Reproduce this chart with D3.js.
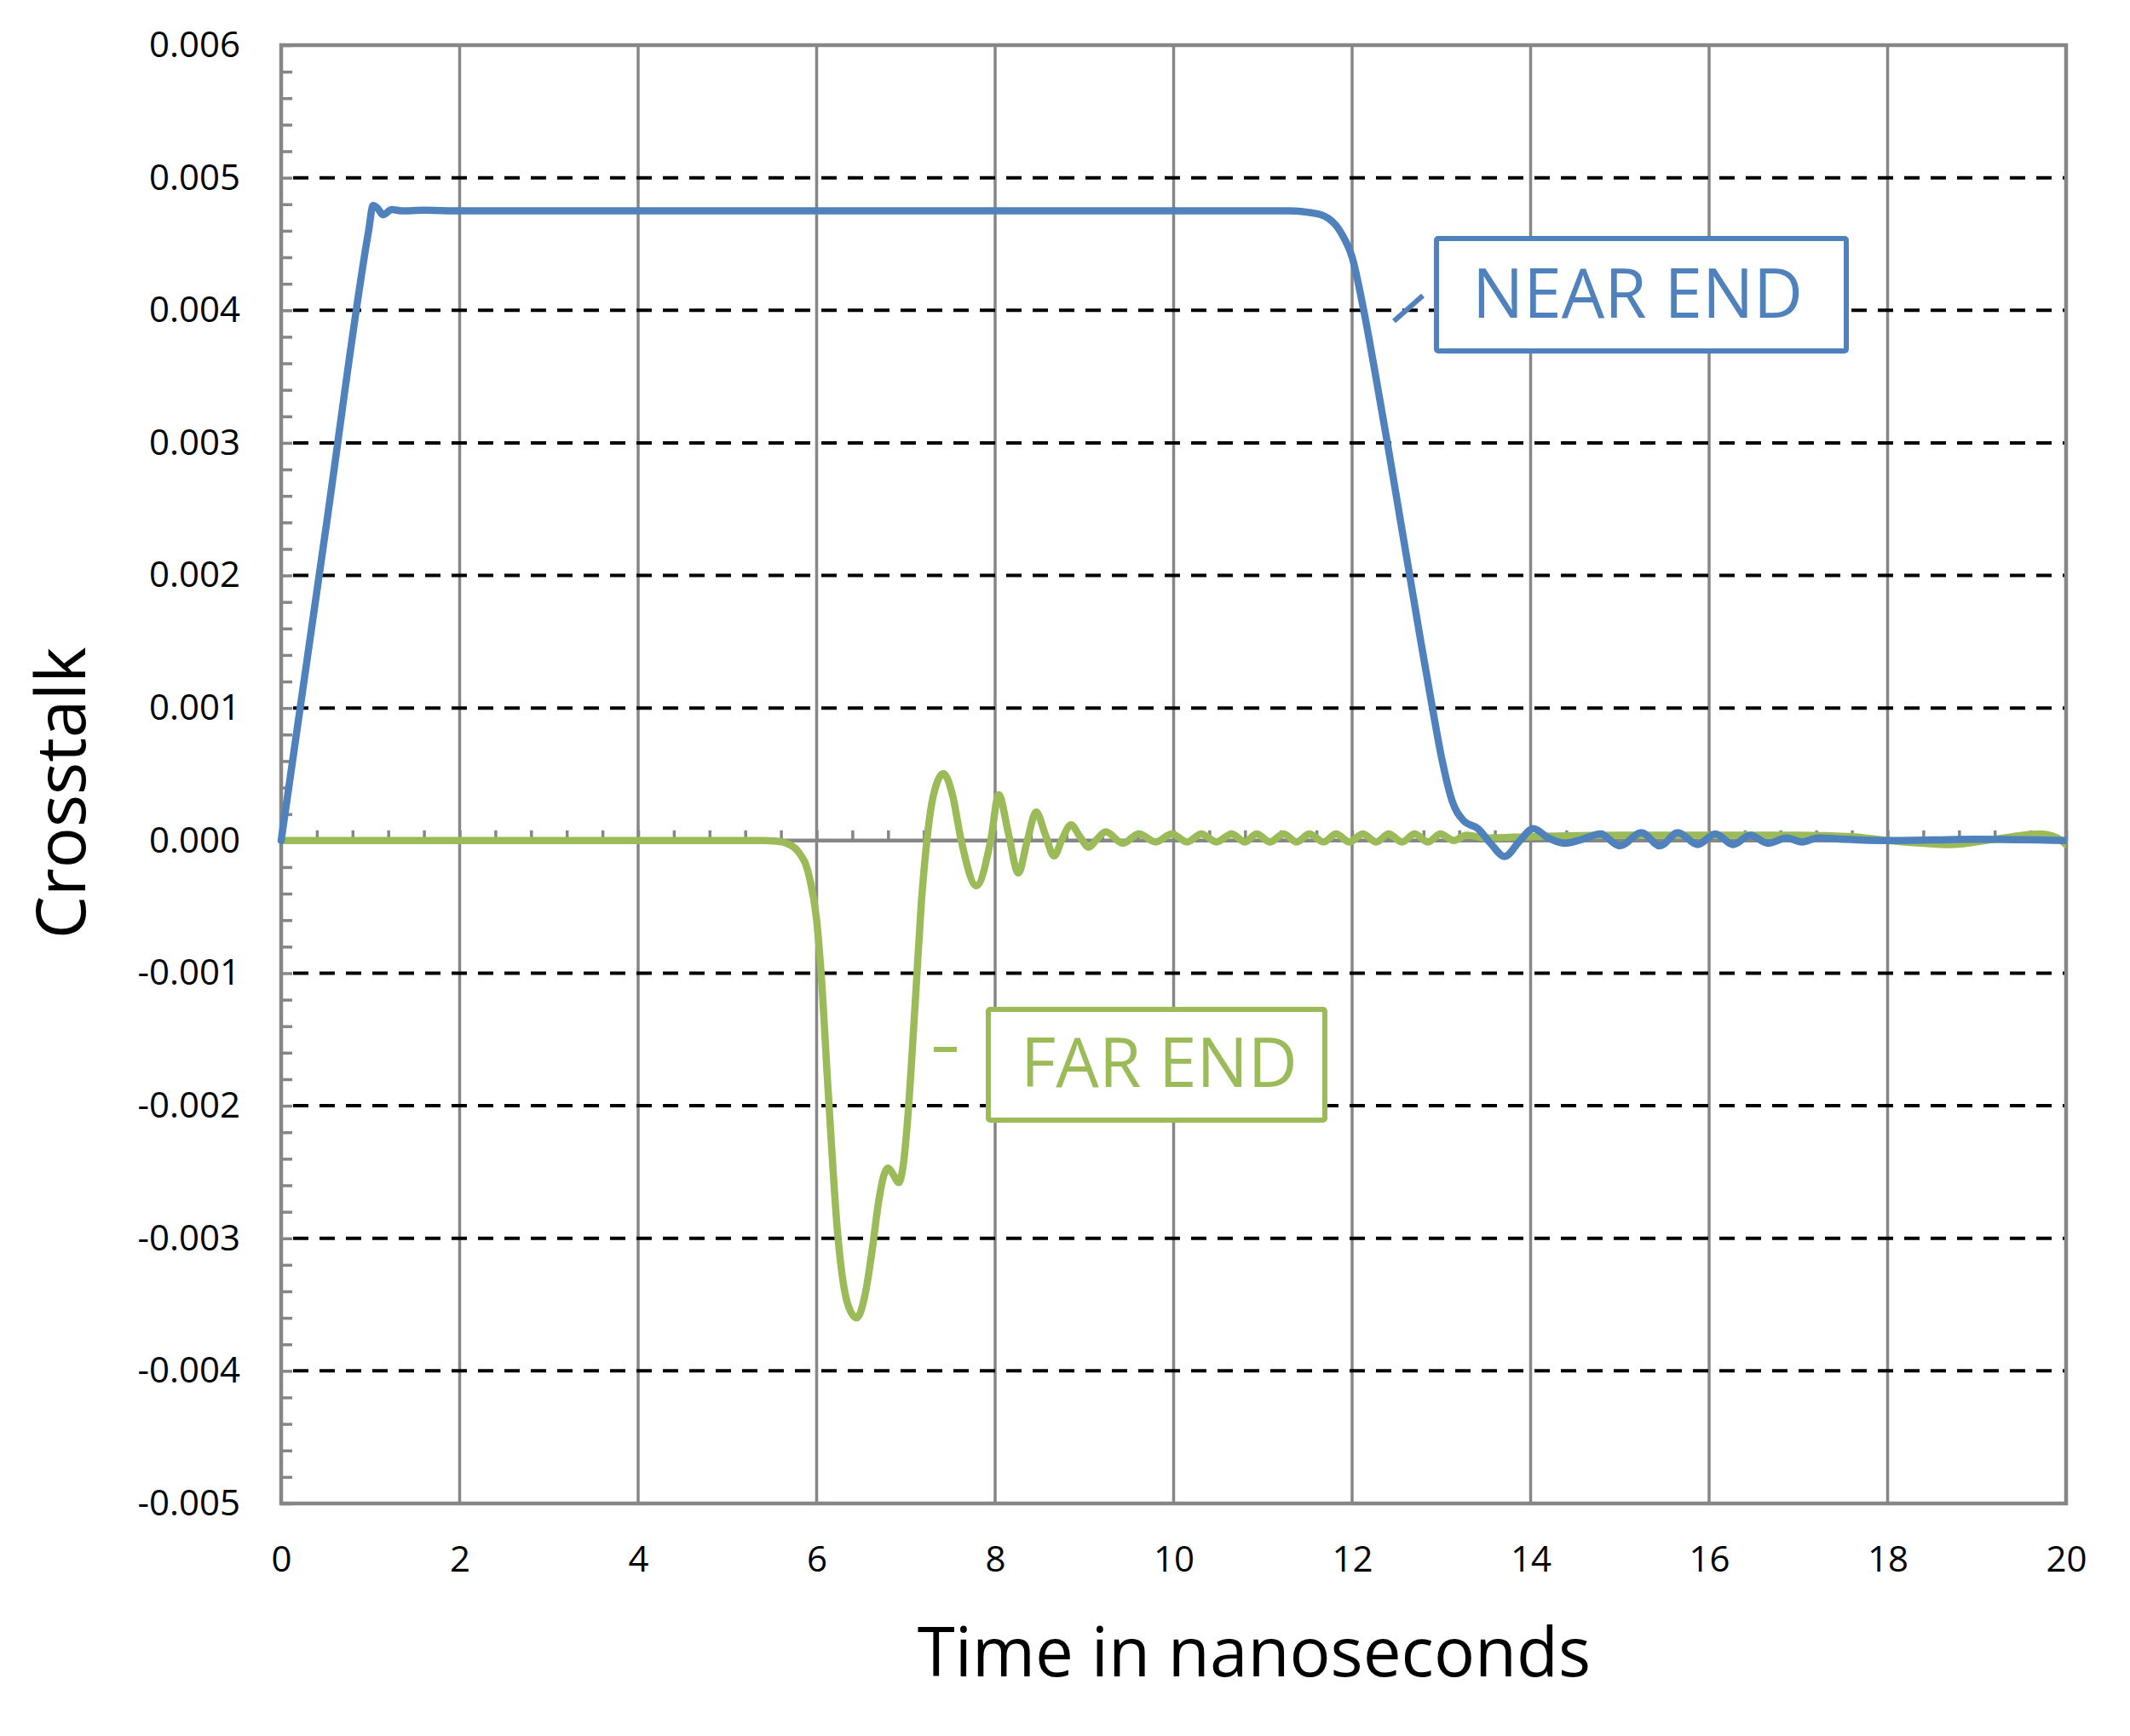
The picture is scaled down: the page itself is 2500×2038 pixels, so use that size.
<!DOCTYPE html>
<html>
<head>
<meta charset="utf-8">
<script src="https://cdn.jsdelivr.net/npm/d3@7"></script>
<style>
body { margin: 0; background: #fff; }
svg { display: block; }
text { font-family: "Open Sans", sans-serif; }
</style>
</head>
<body>
<div class="chartDiv"></div>
<script>
// values (time in ns, crosstalk)
var nearTime = [0, 0.5, 0.98, 1.03, 1.08, 1.14, 1.24, 1.35, 1.6, 2, 4, 6, 8, 10, 11.3, 11.5, 11.69, 11.88, 12.0, 12.13,
    12.26, 12.40, 12.53, 12.65, 12.77, 12.90, 13.01, 13.12, 13.25, 13.41, 13.55, 13.71, 13.88, 14.03, 14.2, 14.38,
    14.58, 14.78, 15.0, 15.24, 15.45, 15.65, 15.87, 16.07, 16.27, 16.46, 16.66, 16.87, 17.04, 17.22, 17.5, 18, 19, 20];
var nearEnd = [0, 0.00235, 0.0046, 0.00479, 0.00477, 0.00472, 0.00476, 0.00475, 0.004755, 0.00475, 0.00475, 0.00475,
    0.00475, 0.00475, 0.00475, 0.00474, 0.00471, 0.00458, 0.0044, 0.004,
    0.00352, 0.00298, 0.00246, 0.00198, 0.0015, 0.001, 0.0006, 0.0003, 0.00015, 0.00009, -0.00002, -0.00012,
    0, 0.00009, 0.00002, -0.00002,
    0.00001, 0.00005, -0.00004, 0.00006, -0.00004, 0.00006, -0.00003, 0.00005, -0.00003, 0.00004, -0.00002, 0.00002,
    -0.00001, 0.00002, 0.00001, 0, 0.00001, 0];

var farTime = [0, 5.4, 5.55, 5.66, 5.79, 5.92, 6.0, 6.05, 6.13, 6.24, 6.35, 6.45, 6.55, 6.62, 6.70, 6.76, 6.80, 6.86,
    6.92, 6.97, 7.02, 7.07, 7.12, 7.17, 7.22, 7.28, 7.34, 7.42, 7.52, 7.62, 7.79, 7.95, 8.04, 8.15, 8.26, 8.36, 8.46, 8.56,
    8.66, 8.75, 8.85, 8.95, 9.05, 9.14, 9.24, 9.43, 9.61, 9.80, 9.98, 10.15, 10.31, 10.48, 10.65, 10.80, 10.93, 11.08,
    11.23, 11.38, 11.52, 11.68, 11.82, 11.97, 12.12, 12.27, 12.41, 12.56, 12.70, 12.85, 12.99, 13.14, 13.28, 13.5,
    14, 15, 16, 17, 17.6, 18.0, 18.4, 18.7, 19.1, 19.4, 19.7, 19.9, 20];
var farEnd = [0, 0, -0.000005, -0.00002, -0.00008, -0.00028, -0.0006, -0.001, -0.0019, -0.003, -0.0035, -0.0036,
    -0.0034, -0.0031, -0.0027, -0.00251, -0.00247, -0.00252,
    -0.00258, -0.00245, -0.0021, -0.0016, -0.00105, -0.0005, -0.0001, 0.00024, 0.00042, 0.000505, 0.00035, 0, -0.00034,
    0, 0.000345, 0.00005, -0.000245, 0, 0.000216, 0.00005,
    -0.000116, 0.00001, 0.00012, 0.00003, -0.00005, 0.00001, 0.000066, -0.00002, 0.00005, -0.00001, 0.00005,
    -0.00001, 0.00005, -0.00001, 0.00005, -0.00001, 0.00005, -0.00001,
    0.00005, -0.00001, 0.00005, -0.00001, 0.00005, -0.00001, 0.00005, -0.00001, 0.00005, -0.00001, 0.00005,
    -0.00001, 0.00005, 0, 0.00004, 0.00002,
    0.00003, 0.00004, 0.00004, 0.00004, 0.00003, 0, -0.00002, -0.00003, 0, 0.00003, 0.00005, 0.00002, -0.00003];

var xTicks = [0, 2, 4, 6, 8, 10, 12, 14, 16, 18, 20];
var yTicks = [-0.005, -0.004, -0.003, -0.002, -0.001, 0, 0.001, 0.002, 0.003, 0.004, 0.005, 0.006];

var labelNames = ['NEAR END', 'FAR END'];

const chartWidth = 2500;
const chartHeight = 2038;
const plotLeft = 330;
const plotRight = 2425;
const plotTop = 53;
const plotBottom = 1765;

const blue = '#4f81bd';
const green = '#9bbb59';
const gray = '#868686';

var svg = d3.select('.chartDiv')
    .append('svg')
    .attr('width', chartWidth)
    .attr('height', chartHeight);

var x = d3.scaleLinear().domain([0, 20]).range([plotLeft, plotRight]);
var y = d3.scaleLinear().domain([-0.005, 0.006]).range([plotBottom, plotTop]);

// vertical grid lines
svg.append('g')
    .selectAll('line')
    .data(xTicks.slice(1, -1))
    .enter()
    .append('line')
    .attr('x1', d => x(d))
    .attr('x2', d => x(d))
    .attr('y1', plotTop)
    .attr('y2', plotBottom)
    .style('stroke', gray)
    .style('stroke-width', 3.5);

// dashed horizontal grid lines
svg.append('g')
    .selectAll('line')
    .data(yTicks.filter(d => d != 0 && d > -0.005 && d < 0.006))
    .enter()
    .append('line')
    .attr('x1', plotLeft + 2)
    .attr('x2', plotRight)
    .attr('y1', d => y(d))
    .attr('y2', d => y(d))
    .style('stroke', '#000')
    .style('stroke-width', 4)
    .style('stroke-dasharray', '18,13')
    .style('stroke-dashoffset', -12);

// plot border
svg.append('rect')
    .attr('x', plotLeft)
    .attr('y', plotTop)
    .attr('width', plotRight - plotLeft)
    .attr('height', plotBottom - plotTop)
    .attr('fill', 'none')
    .style('stroke', gray)
    .style('stroke-width', 4.5);

// minor ticks on the left axis, pointing inwards
const yMinor = d3.range(-25, 31).map(i => i * 0.0002);
svg.append('g')
    .attr('transform', `translate(${plotLeft},0)`)
    .call(d3.axisRight(y).tickValues(yMinor).tickSize(13).tickFormat(''))
    .call(g => g.select('.domain').remove())
    .call(g => g.selectAll('line').style('stroke', gray).style('stroke-width', 3.5));

// zero line with minor ticks
const xMinor = d3.range(0, 51).map(i => i * 0.4);
svg.append('g')
    .attr('transform', `translate(0,${y(0)})`)
    .call(d3.axisTop(x).tickValues(xMinor).tickSize(12).tickFormat(''))
    .call(g => g.select('.domain').remove())
    .call(g => g.selectAll('line').style('stroke', gray).style('stroke-width', 3.5));

svg.append('line')
    .attr('x1', plotLeft)
    .attr('x2', plotRight)
    .attr('y1', y(0))
    .attr('y2', y(0))
    .style('stroke', gray)
    .style('stroke-width', 4.5);

// tick labels
svg.append('g')
    .attr('transform', `translate(${plotLeft},0)`)
    .call(d3.axisLeft(y).tickValues(yTicks).tickSize(0).tickPadding(48).tickFormat(d => d.toFixed(3)))
    .call(g => g.select('.domain').remove())
    .call(g => g.selectAll('text').style('font-size', '42px').style('fill', '#000')
        .style('font-family', '"Open Sans", sans-serif'));

svg.append('g')
    .attr('transform', `translate(0,${plotBottom})`)
    .call(d3.axisBottom(x).tickValues(xTicks).tickSize(0).tickPadding(50))
    .call(g => g.select('.domain').remove())
    .call(g => g.selectAll('text').style('font-size', '42px').style('fill', '#000')
        .style('font-family', '"Open Sans", sans-serif'));

// axis titles
svg.append('text')
    .attr('x', 1472)
    .attr('y', 1968)
    .attr('text-anchor', 'middle')
    .style('font-size', '80px')
    .text('Time in nanoseconds');

svg.append('text')
    .attr('transform', 'translate(100,931) rotate(-90)')
    .attr('text-anchor', 'middle')
    .style('font-size', '80px')
    .text('Crosstalk');

// series
svg.append('clipPath')
    .attr('id', 'plotClip')
    .append('rect')
    .attr('x', plotLeft - 6)
    .attr('y', plotTop)
    .attr('width', plotRight - plotLeft + 6)
    .attr('height', plotBottom - plotTop);

const line = d3.line()
    .x(d => x(d[0]))
    .y(d => y(d[1]))
    .curve(d3.curveMonotoneX);

const series = [
    {name: 'far', color: green, points: d3.zip(farTime, farEnd)},
    {name: 'near', color: blue, points: d3.zip(nearTime, nearEnd)}
];

svg.append('g')
    .attr('clip-path', 'url(#plotClip)')
    .selectAll('path')
    .data(series)
    .enter()
    .append('path')
    .attr('d', d => line(d.points))
    .attr('fill', 'none')
    .style('stroke', d => d.color)
    .style('stroke-width', 8.5)
    .style('stroke-linejoin', 'round')
    .style('stroke-linecap', 'round');

// callout labels
const labels = [
    {text: labelNames[0], color: blue, box: [1686, 280, 2167, 412], tx: 1728, ty: 373, leader: [1636, 377, 1670, 347]},
    {text: labelNames[1], color: green, box: [1160, 1185, 1555, 1315], tx: 1198, ty: 1276, leader: [1096, 1232, 1123, 1232]}
];

labels.forEach(l => {
    svg.append('line')
        .attr('x1', l.leader[0])
        .attr('y1', l.leader[1])
        .attr('x2', l.leader[2])
        .attr('y2', l.leader[3])
        .style('stroke', l.color)
        .style('stroke-width', 6);

    svg.append('rect')
        .attr('x', l.box[0])
        .attr('y', l.box[1])
        .attr('width', l.box[2] - l.box[0])
        .attr('height', l.box[3] - l.box[1])
        .attr('rx', 2)
        .attr('fill', '#fff')
        .style('stroke', l.color)
        .style('stroke-width', 6);

    svg.append('text')
        .attr('x', l.tx)
        .attr('y', l.ty)
        .style('font-size', '80px')
        .style('fill', l.color)
        .text(l.text);
});
</script>
</body>
</html>
